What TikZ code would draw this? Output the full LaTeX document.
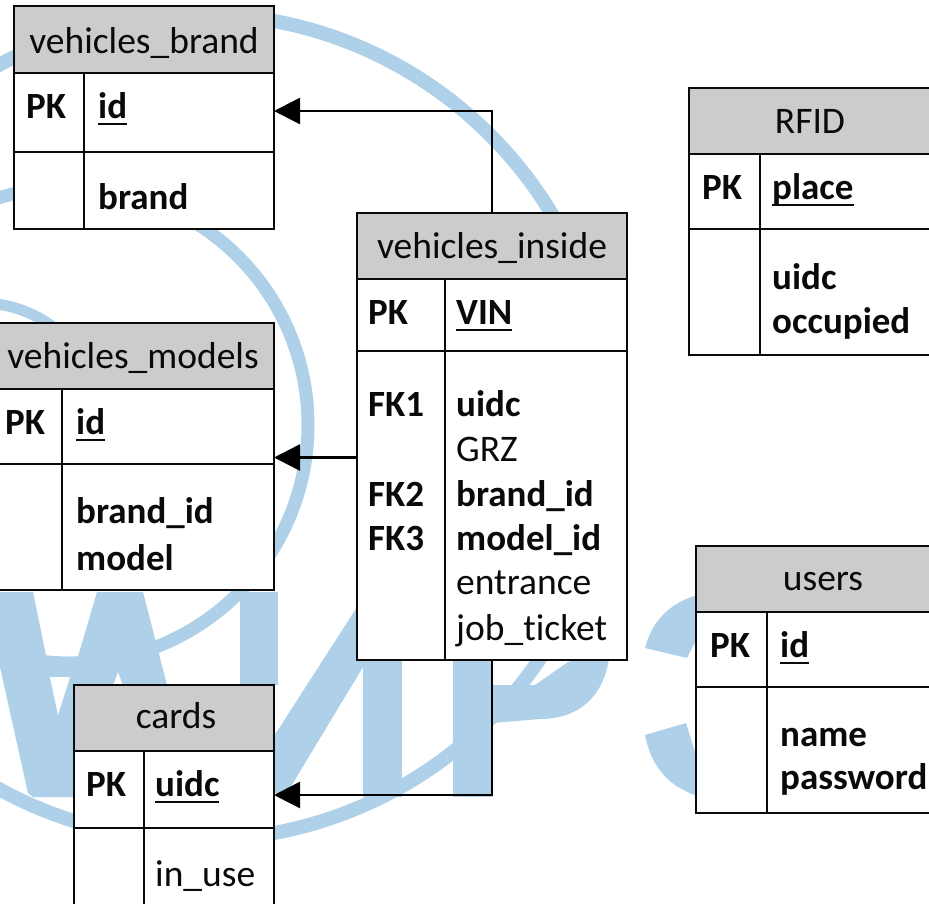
\documentclass[tikz,border=0pt]{standalone}
\usepackage{fontspec}
\setmainfont{Carlito}[Ligatures=NoCommon]
\usetikzlibrary{arrows.meta}
\definecolor{wm}{HTML}{AED1E9}
\definecolor{hdr}{HTML}{CCCCCC}
\definecolor{ink}{HTML}{0A0A0A}
\newcommand\ulin[1]{\setbox0\hbox{#1}\leavevmode\rlap{\raisebox{-6.5pt}{\rule{\wd0}{2.2pt}}}\box0 }
\tikzset{
  cell/.style={draw=ink,line width=1.8pt,inner sep=0pt,outer sep=0pt,anchor=north west},
  ttl/.style={inner sep=0pt,anchor=base,yshift=-1.5pt,text=ink,font=\fontsize{37.5}{44}\selectfont},
  fldr/.style={inner sep=0pt,anchor=base west,yshift=-1.5pt,text=ink,font=\fontsize{37.5}{44}\selectfont},
  fldb/.style={fldr,font=\fontsize{37}{44}\selectfont\bfseries},
  fk/.style={draw=black,line width=2.6pt,-{Triangle[length=26pt,width=26pt]}},
  ring/.style={draw=wm},
  wmfill/.style={fill=wm,draw=none},
}
% name, x0, x1, y0 (top), y1 (header end), y2 (pk row end), y3 (bottom), xc (column)
\newcommand\tbl[8]{%
  \node[cell,fill=hdr,minimum width={(#3-#2)*1pt},minimum height={(#5-#4)*1pt}] (#1H) at (#2,#4) {};
  \node[cell,fill=white,minimum width={(#3-#2)*1pt},minimum height={(#6-#5)*1pt}] (#1P) at (#2,#5) {};
  \node[cell,fill=white,minimum width={(#3-#2)*1pt},minimum height={(#7-#6)*1pt}] (#1B) at (#2,#6) {};
  \draw[draw=ink,line width=1.8pt] (#8,#5) -- (#8,#7);
}
\begin{document}
\begin{tikzpicture}[x=1pt,y=-1pt]
\clip (0,0) rectangle (929,904);
\fill[white] (0,0) rectangle (929,904);
% watermark
\draw[ring,line width=14pt] (198,427) circle[radius=413];
\draw[ring,line width=13pt] (70,425) circle[radius=238];
\draw[ring,line width=11pt] (-19,423) circle[radius=120];
\fill[wmfill] (0,592) -- (33,592) -- (47,660) -- (77,660) -- (97,592) -- (143,592) -- (167,685) -- (167,700) -- (74,700) -- (74,797) -- (33,797) -- (28,793) -- (0,667) -- cycle;
\fill[white] (50,677) -- (70,677) -- (58,715) -- cycle;
\fill[white] (118,672) -- (113,686) -- (123,686) -- cycle;
\fill[wmfill] (240,592) rectangle (278,685);
\fill[wmfill] (262,750) -- (278,730) -- (357,607) -- (370,607) -- (363,667) -- (287,793) -- (262,793) -- cycle;
\fill[wmfill] (363,650) rectangle (402,797);
\fill[wmfill] (453,650) rectangle (493,797);
\fill[wmfill] (493,685) -- (535,685) -- (568,662) -- (610,650) .. controls (606,700) and (575,719) .. (540,719) -- (493,723) -- cycle;
\fill[wmfill] (645,648) .. controls (652,620) and (672,600) .. (705,593) -- (705,640) -- (696,640) -- (687,658) -- cycle;
\fill[wmfill] (645,735) .. controls (652,770) and (672,790) .. (705,798) -- (705,760) -- (696,755) -- (686,723) -- cycle;
% tables
\tbl{brand}{14}{274}{6}{73}{152}{229}{84}
\tbl{models}{-8}{274}{323}{389}{464}{590}{62}
\tbl{inside}{357}{627}{213}{279}{351}{660}{445}
\tbl{rfid}{689}{940}{88}{154}{229}{355}{760}
\tbl{users}{696}{950}{546}{612}{687}{813}{767}
\tbl{cards}{74}{274}{685}{751}{828}{950}{144}
% text
\node[ttl] (t1) at (144,52) {vehicles\_brand};
\node[fldb] (b1) at (26,117) {PK};
\node[fldb] (b2) at (98,117) {\ulin{id}};
\node[fldb] (b3) at (98,208) {brand};
\node[ttl] (t2) at (133,367) {vehicles\_models};
\node[fldb] (m1) at (5,433) {PK};
\node[fldb] (m2) at (76,433) {\ulin{id}};
\node[fldb] (m3) at (76,522) {brand\_id};
\node[fldb] (m4) at (76,569) {model};
\node[ttl] (t3) at (492,257) {vehicles\_inside};
\node[fldb] (i1) at (368,323) {PK};
\node[fldb] (i2) at (456,323) {\ulin{VIN}};
\node[fldb] (i3) at (368,415) {FK1};
\node[fldb] (i4) at (456,415) {uidc};
\node[fldr] (i5) at (456,460) {GRZ};
\node[fldb] (i6) at (368,505) {FK2};
\node[fldb] (i7) at (456,505) {brand\_id};
\node[fldb] (i8) at (368,549) {FK3};
\node[fldb] (i9) at (456,549) {model\_id};
\node[fldr] (i10) at (456,593) {entrance};
\node[fldr] (i11) at (456,639) {job\_ticket};
\node[ttl] (t4) at (810,132) {RFID};
\node[fldb] (r1) at (702,198) {PK};
\node[fldb] (r2) at (772,198) {\ulin{place}};
\node[fldb] (r3) at (772,288) {uidc};
\node[fldb] (r4) at (772,332) {occupied};
\node[ttl] (t5) at (823,589) {users};
\node[fldb] (u1) at (710,656) {PK};
\node[fldb] (u2) at (780,656) {\ulin{id}};
\node[fldb] (u3) at (780,745) {name};
\node[fldb] (u4) at (780,788) {password};
\node[ttl] (t6) at (176,727) {cards};
\node[fldb] (c1) at (86,795) {PK};
\node[fldb] (c2) at (155,795) {\ulin{uidc}};
\node[fldr] (c3) at (155,885) {in\_use};
% connectors
\coordinate (toBrand) at ([yshift=1.5pt]brandP.east);
\coordinate (toModels) at ([yshift=-31pt]modelsP.east);
\coordinate (fromInside) at (insideB.west |- toModels);
\coordinate (toCards) at ([yshift=-5.5pt]cardsP.east);
\draw[fk] (insideH.north) |- (toBrand);
\draw[fk] (fromInside) -- (toModels);
\draw[fk] (insideB.south) |- (toCards);
\end{tikzpicture}
\end{document}
